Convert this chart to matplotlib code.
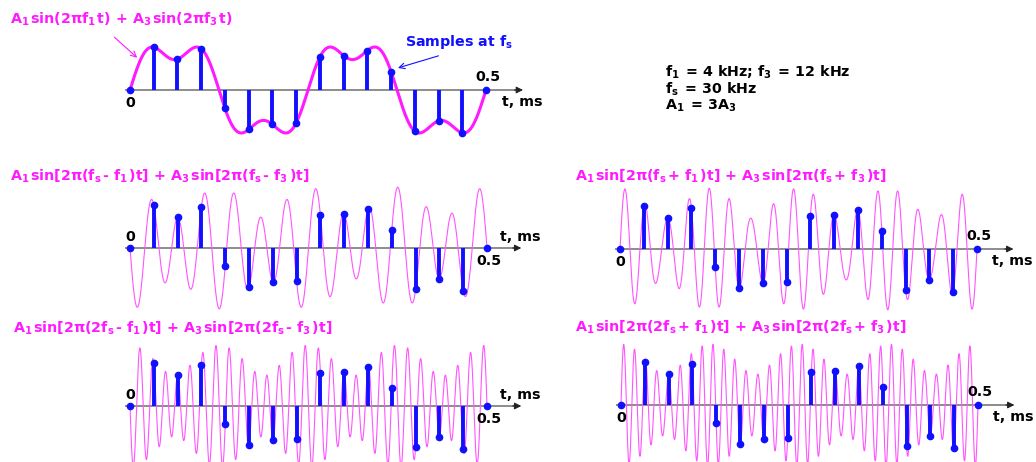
import numpy as np
import matplotlib.pyplot as plt

plt.rcParams['font.family'] = ['DejaVu Sans']
plt.rcParams['font.weight'] = 'bold'
plt.rcParams['mathtext.fontset'] = 'custom'
plt.rcParams['mathtext.rm'] = 'DejaVu Sans:bold'
plt.rcParams['mathtext.it'] = 'DejaVu Sans:bold'
plt.rcParams['mathtext.bf'] = 'DejaVu Sans:bold'

# signal parameters (kHz, ms)
F1 = 4.0
F3 = 12.0
FS = 30.0
A1 = 3.0
A3 = 1.0
T_END = 0.5

# each panel draws f + shift*fs (sign picked so the curve passes through the samples)
panel_shifts = [0, -1, 1, -2, 2]
panel_titles = [
    r"A$_{1\,}$sin(2πf$_{1\,}$t) + A$_{3\,}$sin(2πf$_{3\,}$t)",
    r"A$_{1\,}$sin[2π(f$_{s\,}$- f$_{1\,}$)t] + A$_{3\,}$sin[2π(f$_{s\,}$- f$_{3\,}$)t]",
    r"A$_{1\,}$sin[2π(f$_{s\,}$+ f$_{1\,}$)t] + A$_{3\,}$sin[2π(f$_{s\,}$+ f$_{3\,}$)t]",
    r"A$_{1\,}$sin[2π(2f$_{s\,}$- f$_{1\,}$)t] + A$_{3\,}$sin[2π(2f$_{s\,}$- f$_{3\,}$)t]",
    r"A$_{1\,}$sin[2π(2f$_{s\,}$+ f$_{1\,}$)t] + A$_{3\,}$sin[2π(2f$_{s\,}$+ f$_{3\,}$)t]",
]
param_lines = [r"f$_{1\,}$ = 4 kHz; f$_{3\,}$ = 12 kHz", r"f$_{s\,}$ = 30 kHz", r"A$_{1\,}$ = 3A$_3$"]

W, H = 1036, 462
PPU = 15.2          # pixels per amplitude unit
T_LO, T_HI = -0.03, 0.62
Y_LIM = 4.6
FONT = 10.3

# layout in pixels: x of t=0, x of t=0.5, y of baseline, title pos
panels = [
    dict(x0=130, x1=486, yb=90, title=(10, 19), lab0="below", tip=0.552),
    dict(x0=130, x1=487, yb=248, title=(10, 176), lab0="above", tip=0.548),
    dict(x0=620, x1=977, yb=249, title=(575, 176), lab0="below", tip=0.551),
    dict(x0=130, x1=487, yb=406, title=(13, 328), lab0="above", tip=0.548),
    dict(x0=621, x1=978, yb=405, title=(575, 327), lab0="below", tip=0.551),
]

MAGENTA = "#ff1aff"
BLUE = "#1010ff"
GREY = "#8c8c8c"

fig = plt.figure(figsize=(W / 100, H / 100), dpi=100)

t_fine = np.linspace(0, T_END, 5000)
t_samp = np.arange(0, 16) / FS


def signal(t, shift):
    return (A1 * np.sin(2 * np.pi * (F1 + shift * FS) * t)
            + A3 * np.sin(2 * np.pi * (F3 + shift * FS) * t))


axes = []
for i, (p, shift) in enumerate(zip(panels, panel_shifts)):
    pxms = (p["x1"] - p["x0"]) / T_END
    left = p["x0"] + T_LO * pxms
    width = (T_HI - T_LO) * pxms
    bottom = p["yb"] + Y_LIM * PPU
    height = 2 * Y_LIM * PPU
    ax = fig.add_axes([left / W, 1 - bottom / H, width / W, height / H])
    ax.set_xlim(T_LO, T_HI)
    ax.set_ylim(-Y_LIM, Y_LIM)
    ax.axis("off")
    ax.patch.set_alpha(0)

    # time axis with arrow
    ax.plot([-0.006, p["tip"] - 0.01], [0, 0], color=GREY, lw=1.4, zorder=1)
    ax.annotate("", xy=(p["tip"], 0), xytext=(p["tip"] - 0.012, 0),
                arrowprops=dict(arrowstyle="-|>", color="#222222", lw=0.8,
                                mutation_scale=10, shrinkA=0, shrinkB=0))

    if i == 0:
        ax.plot(t_fine, signal(t_fine, shift), color=MAGENTA, lw=2.2, zorder=2)
    else:
        ax.plot(t_fine, signal(t_fine, shift), color="#ff55ff", lw=0.8, zorder=2)

    ml, sl, bl = ax.stem(t_samp, signal(t_samp, 0), basefmt=" ")
    plt.setp(sl, color=BLUE, lw=2.8, zorder=3)
    plt.setp(ml, color=BLUE, markersize=4.5, zorder=4)

    up = p["lab0"] == "above"
    ax.annotate("0", xy=(0, 0), xytext=(0, 11 if up else -13), textcoords="offset pixels",
                ha="center", va="center", fontsize=FONT)
    ax.annotate("0.5", xy=(T_END, 0), xytext=(2, -13 if up else 13), textcoords="offset pixels",
                ha="center", va="center", fontsize=FONT)
    ax.annotate("t, ms", xy=(p["tip"], 0), xytext=(-21, 11 if up else -12),
                textcoords="offset pixels", ha="left", va="center", fontsize=FONT)

    fig.text(p["title"][0] / W, 1 - p["title"][1] / H, panel_titles[i], color=MAGENTA,
             fontsize=FONT, ha="left", va="center")
    axes.append(ax)

# pointers on the top panel
ax1 = axes[0]
fig.text(405 / W, 1 - 42 / H, r"Samples at f$_s$", color=BLUE, fontsize=FONT, ha="left", va="center")
ax1.annotate("", xy=(0.013, 2.0), xytext=(-0.025, 3.6),
             arrowprops=dict(arrowstyle="->", color=MAGENTA, lw=0.8))
ax1.annotate("", xy=(t_samp[11] + 0.006, 1.4), xytext=(0.437, 2.3),
             arrowprops=dict(arrowstyle="->", color=BLUE, lw=0.8))

for k, line in enumerate(param_lines):
    fig.text(665 / W, 1 - (72 + 17 * k) / H, line, color="black", fontsize=FONT,
             ha="left", va="center")

fig.savefig("out.png", dpi=100)
